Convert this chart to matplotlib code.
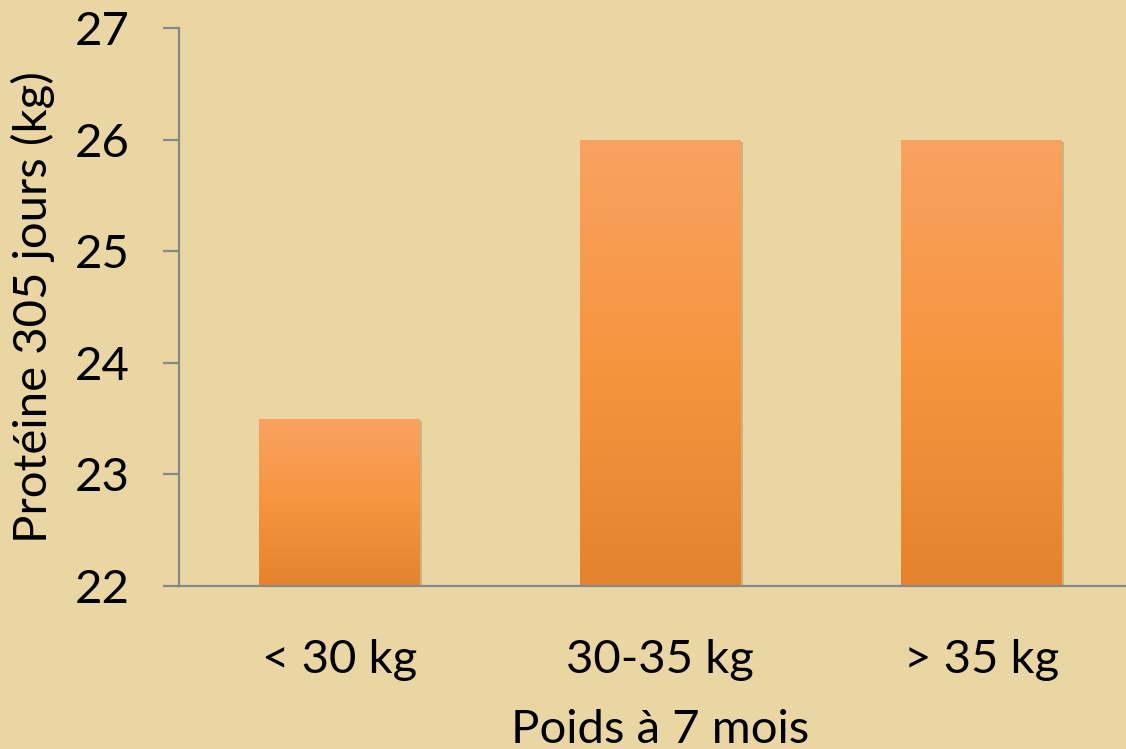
import numpy as np
import matplotlib
matplotlib.use("Agg")
import matplotlib.pyplot as plt
from matplotlib.colors import LinearSegmentedColormap
import matplotlib.patheffects as pe

categories = ["< 30 kg", "30-35 kg", "> 35 kg"]
proteine = [23.5, 26.0, 26.0]
y_ticks = [22, 23, 24, 25, 26, 27]

plt.rcParams['font.family'] = ['Lato', 'DejaVu Sans']

fig = plt.figure(figsize=(11.26, 7.49), dpi=100)
fig.patch.set_facecolor('#e9d6a2')
ax = fig.add_axes([0.159, 0.2176, 0.855, 0.745])
ax.set_facecolor('none')

x = np.arange(len(categories))
bars = ax.bar(x, proteine, width=0.5, bottom=0, color='#f79646',
              path_effects=[pe.SimplePatchShadow(offset=(2, -2), shadow_rgbFace='#8a7a50', alpha=0.35), pe.Normal()],
              zorder=2)

# vertical orange gradient inside each bar
grad = LinearSegmentedColormap.from_list('orange', ['#e5822e', '#f7953f', '#f9a262'])
g = np.linspace(0, 1, 256).reshape(-1, 1)
for b in bars:
    x0 = b.get_x()
    im = ax.imshow(g, cmap=grad, origin='lower', aspect='auto',
                   extent=[x0, x0 + b.get_width(), 22, b.get_height()], zorder=3)
    im.set_clip_path(b)

ax.set_xlim(-0.5, 2.5)
ax.set_ylim(22, 27)
ax.set_yticks(y_ticks)
ax.set_xticks(x)
ax.set_xticklabels(categories)

for s in ['top', 'right']:
    ax.spines[s].set_visible(False)
for s in ['left', 'bottom']:
    ax.spines[s].set_color('#888888')
    ax.spines[s].set_linewidth(1.6)
    ax.spines[s].set_zorder(4)

ax.tick_params(axis='y', length=11.5, width=1.6, color='#888888', labelsize=34, pad=24)
ax.tick_params(axis='x', length=0, labelsize=34, pad=38)

ax.set_ylabel("Protéine 305 jours (kg)", fontsize=34, labelpad=14)
ax.set_xlabel("Poids à 7 mois", fontsize=34, labelpad=20)

fig.savefig("out.png", dpi=100, facecolor=fig.get_facecolor())
